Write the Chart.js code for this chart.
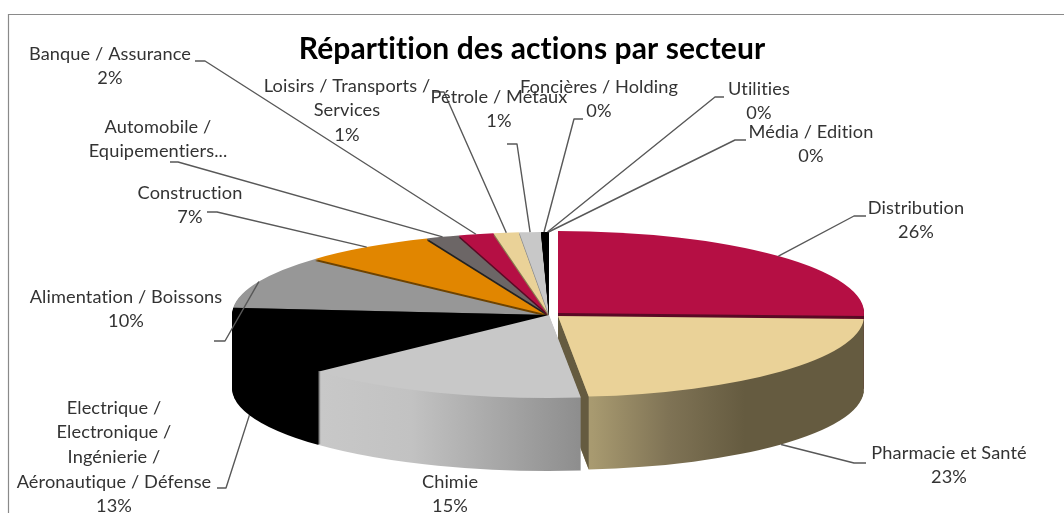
<!DOCTYPE html>
<html>
<head>
<meta charset="utf-8">
<title>Répartition des actions par secteur</title>
<script src="https://cdn.jsdelivr.net/npm/chart.js@4"></script>
<style>
    html, body { margin: 0; padding: 0; background: #fff; overflow: hidden; }
    canvas { display: block; }
</style>
</head>
<body>
<canvas id="pie3d" width="1064" height="513"></canvas>
<script>
// Data
const categories = ['Distribution', 'Pharmacie et Santé', 'Chimie', 'Electrique / Electronique / Ingénierie / Aéronautique / Défense', 'Alimentation / Boissons', 'Construction', 'Automobile / Equipementiers...', 'Banque / Assurance', 'Loisirs / Transports / Services', 'Pétrole / Métaux', 'Foncières / Holding', 'Utilities', 'Média / Edition'];
const values = [25.6, 22.8, 14.6, 13.4, 10.4, 6.9, 1.7, 1.8, 1.3, 1.1, 0.3, 0.05, 0.05];
const titleText = 'Répartition des actions par secteur';

// Slice colours
const topColors = ['#B50F44', '#EAD298', '#C8C8C8', '#000000', '#979797', '#E18600', '#6C6666', '#B50F44', '#EAD298', '#C8C8C8', '#000000', '#000000', '#000000'];
const lipColors = ['#5A0A25', '#655B40', '#8E8E8E', '#000000', '#4A4A4A', '#6E4300', '#222222', '#5A0A25', '#8A7A50', '#8E8E8E', '#000000', '#000000', '#000000'];

// Label layout: wrapped lines, centre x, first line y, and the elbow of the leader line
const labelLines = [['Distribution'], ['Pharmacie et Santé'], ['Chimie'], ['Electrique /', 'Electronique /', 'Ingénierie /', 'Aéronautique / Défense'], ['Alimentation / Boissons'], ['Construction'], ['Automobile /', 'Equipementiers...'], ['Banque / Assurance'], ['Loisirs / Transports /', 'Services'], ['Pétrole / Métaux'], ['Foncières / Holding'], ['Utilities'], ['Média / Edition']];
const labelX = [916, 949, 450, 114, 126, 190, 158, 110, 347, 499, 599, 759, 811];
const labelY = [208, 453, 482, 408, 297, 193, 127, 54, 86, 97, 87, 89, 132];
const leaders = [[866, 216, 854, 216], [866, 463, 854, 463], null, [217, 488, 226, 488], [214, 341, 225, 341], [207, 212, 217, 212], [170, 162, 178, 162], [195, 61, 205, 61], [433, 92, 444, 92], [507, 144, 517, 144], [583, 119, 574, 119], [724, 97, 715, 97], [746, 140, 735, 140]];
const noPercent = [6];

// 3D look
const depth = 73;
const lipDepth = 2;
const mainGeom = { cx: 549, cy: 315, rx: 317, ry: 83 };
const explodedGeom = { 0: { cx: 558, cy: 313, rx: 306, ry: 82 }, 1: { cx: 558, cy: 316, rx: 306, ry: 81 } };
const backOrder = [4, 5, 6, 7, 8, 9, 10, 11, 12];
const frontOrder = [0, 3, 1, 2];

function geomOf(i) {
    return explodedGeom[i] || mainGeom;
}

function wallFill(ctx, i) {
    if (i === 1) {
        const g = ctx.createLinearGradient(592, 0, 745, 0);
        g.addColorStop(0, '#A89A70');
        g.addColorStop(0.5, '#7F7355');
        g.addColorStop(1, '#655B40');
        return g;
    }
    if (i === 2) {
        const g = ctx.createLinearGradient(321, 0, 579, 0);
        g.addColorStop(0, '#C8C8C8');
        g.addColorStop(0.35, '#C2C2C2');
        g.addColorStop(1, '#8E8E8E');
        return g;
    }
    return lipColors[i];
}

// Extruded side of one slice, a stack of copies of the arc's wedge
function drawWall(ctx, arc, i, d0) {
    const g = geomOf(i);
    const R = arc.outerRadius;
    ctx.fillStyle = wallFill(ctx, i);
    for (let d = d0; d >= 1; d--) {
        ctx.save();
        ctx.translate(g.cx, g.cy + d);
        ctx.scale(g.rx / R, g.ry / R);
        ctx.beginPath();
        ctx.moveTo(0, 0);
        ctx.arc(0, 0, R, arc.startAngle, arc.endAngle);
        ctx.closePath();
        ctx.restore();
        ctx.fill();
    }
    // cut face of the pharmacy slice is darker than its rim
    if (i === 1) {
        const mid = g.cx + g.rx * Math.cos(arc.endAngle);
        ctx.fillStyle = '#655B40';
        ctx.beginPath();
        ctx.moveTo(g.cx, g.cy);
        ctx.lineTo(mid, g.cy + g.ry * Math.sin(arc.endAngle));
        ctx.lineTo(mid, g.cy + g.ry * Math.sin(arc.endAngle) + d0);
        ctx.lineTo(g.cx, g.cy + d0);
        ctx.closePath();
        ctx.fill();
    }
}

function drawTop(ctx, arc, i) {
    const g = geomOf(i);
    const R = arc.outerRadius;
    ctx.save();
    ctx.translate(g.cx, g.cy);
    ctx.scale(g.rx / R, g.ry / R);
    ctx.translate(-arc.x, -arc.y);
    arc.draw(ctx);
    ctx.restore();
}

const pie3dPlugin = {
    id: 'pie3d',
    beforeDraw(chart) {
        // chart frame
        const ctx = chart.ctx;
        ctx.letterSpacing = '0.1px'; // keeps Lato from joining "ti" in a ligature
        ctx.save();
        ctx.strokeStyle = '#8A8A8A';
        ctx.lineWidth = 1.2;
        ctx.beginPath();
        ctx.moveTo(8.5, 513);
        ctx.lineTo(8.5, 14.5);
        ctx.lineTo(1064, 14.5);
        ctx.stroke();
        ctx.restore();
    },
    beforeDatasetsDraw(chart) {
        const ctx = chart.ctx;
        const arcs = chart.getDatasetMeta(0).data;
        backOrder.forEach(i => {
            drawWall(ctx, arcs[i], i, lipDepth);
            drawTop(ctx, arcs[i], i);
        });
        frontOrder.forEach(i => {
            drawWall(ctx, arcs[i], i, depth);
            drawTop(ctx, arcs[i], i);
        });
        return false;
    },
    afterDraw(chart) {
        const ctx = chart.ctx;
        const arcs = chart.getDatasetMeta(0).data;
        const total = values.reduce((a, b) => a + b, 0);

        // Leader lines end on the rim, at the middle angle of each slice
        ctx.save();
        ctx.strokeStyle = '#585858';
        ctx.lineWidth = 1.4;
        ctx.lineJoin = 'round';
        leaders.forEach((l, i) => {
            if (!l) return;
            const g = geomOf(i);
            const a = (arcs[i].startAngle + arcs[i].endAngle) / 2;
            const px = g.cx + g.rx * Math.cos(a);
            let py = g.cy + g.ry * Math.sin(a);
            if (i === 1 || i === 3) py += depth;
            ctx.beginPath();
            ctx.moveTo(l[0], l[1]);
            ctx.lineTo(l[2], l[3]);
            ctx.lineTo(px, py);
            ctx.stroke();
        });

        // Labels
        ctx.fillStyle = '#333333';
        ctx.font = '18.2px Lato, "Open Sans", sans-serif';
        ctx.textAlign = 'center';
        ctx.textBaseline = 'middle';
        labelLines.forEach((lines, i) => {
            const rows = lines.slice();
            if (!noPercent.includes(i)) rows.push(Math.round(values[i] / total * 100) + '%');
            rows.forEach((t, r) => ctx.fillText(t, labelX[i], labelY[i] + r * 24.6));
        });
        ctx.restore();
    }
};

const myChart = new Chart(document.getElementById('pie3d').getContext('2d'), {
    type: 'pie',
    data: {
        labels: categories,
        datasets: [{
            data: values,
            backgroundColor: topColors,
            borderWidth: 0
        }]
    },
    options: {
        responsive: false,
        animation: false,
        layout: { padding: 0 },
        plugins: {
            legend: { display: false },
            tooltip: { enabled: false },
            title: {
                display: true,
                text: titleText,
                color: '#000000',
                font: { family: 'Lato, "Open Sans", sans-serif', size: 30, weight: 'bold' },
                padding: { top: 31, bottom: 4 }
            }
        }
    },
    plugins: [pie3dPlugin]
});
</script>
</body>
</html>
